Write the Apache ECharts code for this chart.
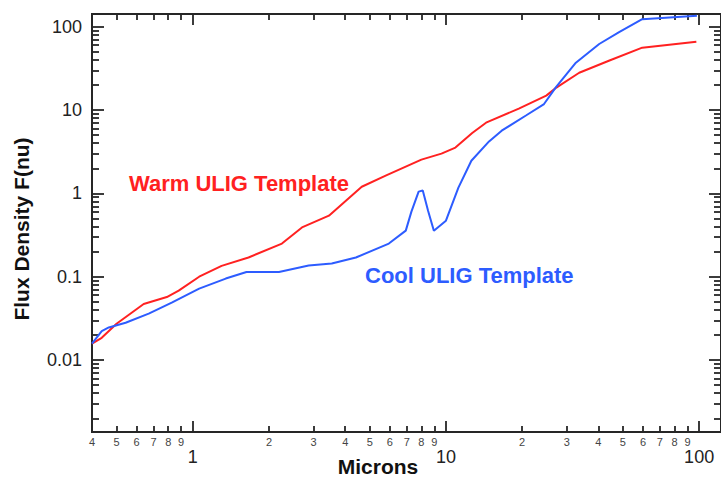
<!DOCTYPE html>
<html><head><meta charset="utf-8">
<script src="https://cdn.jsdelivr.net/npm/echarts@6/dist/echarts.min.js"></script>
<style>html,body{margin:0;padding:0;background:#fff}#c{width:721px;height:477px}</style>
</head><body><div id="c"></div>
<script>
// ---- data ----
const warmMicrons = [0.4, 0.437, 0.5, 0.64, 0.79, 0.88, 1.06, 1.3, 1.66, 2.25, 2.7, 3.45, 4.65, 5.78, 8.0, 9.6, 10.9, 12.7, 14.4, 19.4, 24.9, 27.3, 33.6, 44, 59.6, 97.5];
const warmFlux    = [0.0157, 0.0185, 0.0273, 0.047, 0.057, 0.068, 0.1, 0.135, 0.17, 0.25, 0.39, 0.54, 1.2, 1.63, 2.54, 3.0, 3.54, 5.3, 7.05, 10.4, 14.9, 18.6, 28, 39, 56, 66];
const coolMicrons = [0.4, 0.437, 0.466, 0.543, 0.67, 0.826, 1.06, 1.35, 1.63, 2.19, 2.87, 3.54, 4.41, 5.95, 6.94, 7.3, 7.8, 8.1, 8.5, 8.96, 10.0, 11.2, 12.6, 14.8, 16.6, 20.7, 24.4, 27.2, 32.6, 40.3, 48.3, 59.6, 98];
const coolFlux    = [0.0157, 0.0223, 0.0246, 0.028, 0.036, 0.049, 0.072, 0.095, 0.114, 0.114, 0.136, 0.144, 0.17, 0.25, 0.357, 0.6, 1.05, 1.08, 0.62, 0.357, 0.47, 1.17, 2.46, 4.2, 5.65, 8.6, 11.8, 18.8, 37, 62, 86, 123, 135];

const xMajorTicks  = [1, 10, 100];
const xMajorLabels = ['1', '10', '100'];
const xMinorTicks  = [0.4, 0.5, 0.6, 0.7, 0.8, 0.9, 2, 3, 4, 5, 6, 7, 8, 9, 20, 30, 40, 50, 60, 70, 80, 90];
const xMinorLabels = ['4', '5', '6', '7', '8', '9', '2', '3', '4', '5', '6', '7', '8', '9', '2', '3', '4', '5', '6', '7', '8', '9'];
const yMajorTicks  = [0.01, 0.1, 1, 10, 100];
const yMajorLabels = ['0.01', '0.1', '1', '10', '100'];
const yMinorTicks  = [0.002, 0.003, 0.004, 0.005, 0.006, 0.007, 0.008, 0.009,
                      0.02, 0.03, 0.04, 0.05, 0.06, 0.07, 0.08, 0.09,
                      0.2, 0.3, 0.4, 0.5, 0.6, 0.7, 0.8, 0.9,
                      2, 3, 4, 5, 6, 7, 8, 9,
                      20, 30, 40, 50, 60, 70, 80, 90];

const warmLabel = 'Warm ULIG Template';
const coolLabel = 'Cool ULIG Template';
const xTitle = 'Microns';
const yTitle = 'Flux Density F(nu)';

// ---- axis ranges ----
const X_MIN = 0.4, X_MAX = 122;
const Y_MIN = 0.00137, Y_MAX = 142;

const FONT = '"Liberation Sans", Arial, Helvetica, sans-serif';
const AX = '#262626';
const RED = '#ff2121';
const BLUE = '#2d5cff';

function lookup(ticks, labels) {
  return function (v) {
    for (let i = 0; i < ticks.length; i++) {
      if (Math.abs(ticks[i] - v) < ticks[i] * 1e-6) return labels[i];
    }
    return '';
  };
}

function axis(kind, position, ticks, tickLen, label, extra) {
  const isX = kind === 'x';
  const a = {
    type: 'log', logBase: 10, gridIndex: 0, position: position,
    min: isX ? X_MIN : Y_MIN, max: isX ? X_MAX : Y_MAX,
    splitLine: { show: false }, minorTick: { show: false }, minorSplitLine: { show: false },
    axisLine: { show: true, onZero: false, lineStyle: { color: AX, width: 2 } },
    axisTick: { show: true, inside: true, length: tickLen, customValues: ticks, lineStyle: { color: AX, width: 1.8 } },
    axisLabel: label || { show: false }
  };
  return Object.assign(a, extra || {});
}

const chart = echarts.init(document.getElementById('c'), null, { renderer: 'svg' });

chart.setOption({
  animation: false,
  backgroundColor: '#ffffff',
  grid: { left: 92, top: 14, right: 0, bottom: 45, containLabel: false, outerBoundsMode: 'none' },
  xAxis: [
    axis('x', 'bottom', xMajorTicks, 11, {
      show: true, customValues: xMajorTicks, formatter: lookup(xMajorTicks, xMajorLabels),
      margin: 16, fontSize: 18, lineHeight: 18, color: '#222', fontFamily: FONT, hideOverlap: false
    }, {
      name: xTitle, nameLocation: 'middle', nameGap: 24, nameMoveOverlap: false,
      nameTextStyle: { fontSize: 21, lineHeight: 20, fontWeight: 'bold', color: '#111', fontFamily: FONT, padding: [0, 57, 0, 0] }
    }),
    axis('x', 'bottom', xMinorTicks, 6, {
      show: true, customValues: xMinorTicks, formatter: lookup(xMinorTicks, xMinorLabels),
      margin: 4, fontSize: 11, lineHeight: 11, color: '#444', fontFamily: FONT, hideOverlap: false
    }),
    axis('x', 'top', xMajorTicks, 11),
    axis('x', 'top', xMinorTicks, 6)
  ],
  yAxis: [
    axis('y', 'left', yMajorTicks, 12, {
      show: true, customValues: yMajorTicks, formatter: lookup(yMajorTicks, yMajorLabels),
      margin: 10, fontSize: 18, color: '#222', fontFamily: FONT, hideOverlap: false
    }, {
      name: yTitle, nameLocation: 'middle', nameGap: 60, nameRotate: 90, nameMoveOverlap: false,
      nameTextStyle: { fontSize: 21, fontWeight: 'bold', color: '#111', fontFamily: FONT, padding: [0, 12, 0, 0] }
    }),
    axis('y', 'left', yMinorTicks, 7),
    axis('y', 'right', yMajorTicks, 12),
    axis('y', 'right', yMinorTicks, 7)
  ],
  series: [
    {
      name: warmLabel, type: 'line', xAxisIndex: 0, yAxisIndex: 0,
      data: warmMicrons.map((x, i) => [x, warmFlux[i]]),
      showSymbol: false, symbol: 'none', smooth: false,
      lineStyle: { color: RED, width: 2 }, itemStyle: { color: RED }
    },
    {
      name: coolLabel, type: 'line', xAxisIndex: 0, yAxisIndex: 0,
      data: coolMicrons.map((x, i) => [x, coolFlux[i]]),
      showSymbol: false, symbol: 'none', smooth: false,
      lineStyle: { color: BLUE, width: 2 }, itemStyle: { color: BLUE }
    }
  ],
  graphic: [
    { type: 'text', x: 129, y: 183, silent: true,
      style: { text: warmLabel, fill: RED, font: 'bold 22px ' + FONT, align: 'left', verticalAlign: 'middle', textAlign: 'left', textVerticalAlign: 'middle' } },
    { type: 'text', x: 365, y: 275, silent: true,
      style: { text: coolLabel, fill: BLUE, font: 'bold 22px ' + FONT, align: 'left', verticalAlign: 'middle', textAlign: 'left', textVerticalAlign: 'middle' } }
  ]
});
</script>
</body></html>
